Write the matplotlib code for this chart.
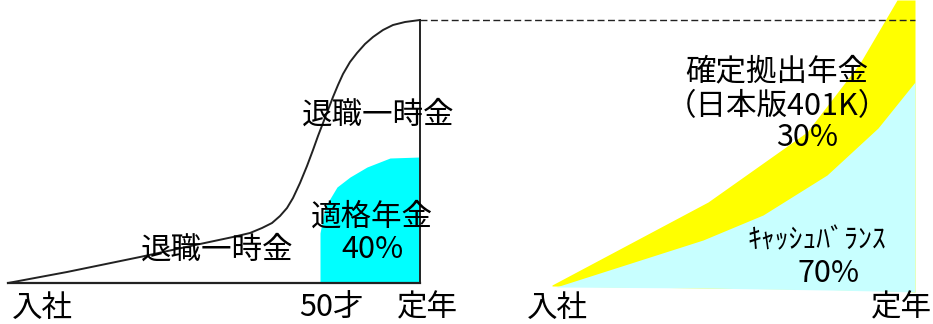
import matplotlib.pyplot as plt

plt.rcParams['font.family'] = ['Noto Sans CJK JP', 'DejaVu Sans']

# --- left panel: old system (pixel-like coords, y downward) ---
curve_x = [8, 67, 140, 200, 233, 250, 262, 272, 280, 287, 293, 300, 307, 313, 318,
           323, 328, 333, 338, 343, 350, 357, 365, 373, 383, 393, 405, 420]
curve_y = [283, 272, 257, 244, 237, 233, 228, 223, 216, 208, 198, 183, 166, 150, 136,
           123, 110, 97, 85, 74, 62, 53, 44, 37, 30, 25, 22, 20]

tekikaku_x = [320, 320, 325, 337, 350, 367, 390, 420]
tekikaku_top = [283, 233, 207, 187, 177, 167, 158, 157]

# --- right panel: new system ---
cb_x = [556, 703, 763, 827, 878, 915]
cb_top = [287, 240, 215, 175, 128, 82]
cb_bottom = [287, 288, 289, 290, 291, 292]

dc_x = [552, 708, 807, 860, 897, 915]
dc_top = [285, 202, 132, 63, 0, 0]
dc_bottom = [286, 288, 289, 290, 291, 292]

fig = plt.figure(figsize=(9.33, 3.24), dpi=100)
ax = fig.add_axes([0, 0, 1, 1])
ax.set_xlim(0, 933)
ax.set_ylim(324, 0)
ax.axis('off')

ax.fill_between(tekikaku_x, tekikaku_top, 283, color='#00FFFF', lw=0)
ax.plot(curve_x, curve_y, color='#222222', lw=1.4)
ax.plot([8, 420], [283, 283], color='#222222', lw=1.6)
ax.plot([420, 420], [283, 20], color='#222222', lw=1.4)

ax.fill_between(dc_x, dc_top, dc_bottom, color='#FFFF00', lw=0)
ax.fill_between(cb_x, cb_top, cb_bottom, color='#C8FFFF', lw=0)
ax.plot([420, 915], [20, 20], color='#222222', lw=1.0, ls=(0, (5, 2.5)))

fs = 22
ax.text(378, 115, '退職一時金', fontsize=fs, ha='center', va='center')
ax.text(217, 250, '退職一時金', fontsize=fs, ha='center', va='center')
ax.text(372, 217, '適格年金', fontsize=fs, ha='center', va='center')
ax.text(372, 250, '40%', fontsize=fs, ha='center', va='center')

ax.text(777, 72, '確定拠出年金', fontsize=fs, ha='center', va='center')
ax.text(777, 107, '（日本版401K）', fontsize=fs, ha='center', va='center')
ax.text(807, 138, '30%', fontsize=fs, ha='center', va='center')
ax.text(817, 240, 'ｷｬｯｼｭﾊﾞﾗﾝｽ', fontsize=20, ha='center', va='center')
ax.text(829, 273, '70%', fontsize=fs, ha='center', va='center')

ax.text(42, 308, '入社', fontsize=fs, ha='center', va='center')
ax.text(331, 308, '50才', fontsize=fs, ha='center', va='center')
ax.text(427, 308, '定年', fontsize=fs, ha='center', va='center')
ax.text(557, 308, '入社', fontsize=fs, ha='center', va='center')
ax.text(901, 308, '定年', fontsize=fs, ha='center', va='center')

# titles cut off at the top edge, as in the source image
ax.text(182, -13, '（移行前の制度）', fontsize=fs, ha='center', va='center')
ax.text(705, -13, '（移行後の制度）', fontsize=fs, ha='center', va='center')

fig.savefig('out.png', dpi=100)
